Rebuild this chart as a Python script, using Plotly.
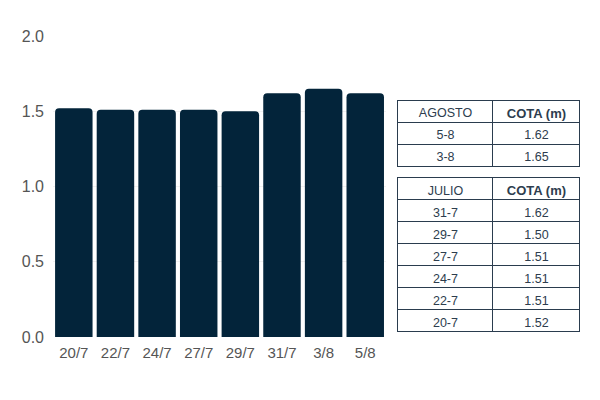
import plotly.graph_objects as go

# datos del grafico
fechas = ['20/7', '22/7', '24/7', '27/7', '29/7', '31/7', '3/8', '5/8']
cota = [1.52, 1.51, 1.51, 1.51, 1.50, 1.62, 1.65, 1.62]
y_ticks = [0.0, 0.5, 1.0, 1.5, 2.0]

# tablas
agosto_dias = ['5-8', '3-8']
agosto_cota = ['1.62', '1.65']
julio_dias = ['31-7', '29-7', '27-7', '24-7', '22-7', '20-7']
julio_cota = ['1.62', '1.50', '1.51', '1.51', '1.51', '1.52']

bar_color = '#03243a'
line_color = '#2a3c4e'
text_color = '#2d3d4e'

fig = go.Figure()

fig.add_trace(
    go.Bar(
        x=fechas,
        y=cota,
        marker=dict(color=bar_color, cornerradius=4, line=dict(width=0)),
        showlegend=False,
        hoverinfo='x+y',
    )
)


def tabla(titulo, dias, valores, ydom):
    return go.Table(
        domain=dict(x=[0.6546, 1.0], y=ydom),
        columnwidth=[95, 87],
        header=dict(
            values=[titulo, 'COTA (m)'],
            height=22,
            align='center',
            fill_color='white',
            line=dict(color=line_color, width=1),
            font=dict(size=[12.5, 13], color=text_color, family='Liberation Sans',
                      weight=['normal', 'bold']),
        ),
        cells=dict(
            values=[dias, valores],
            height=22,
            align='center',
            fill_color='white',
            line=dict(color=line_color, width=1),
            font=dict(size=12.5, color=text_color, family='Liberation Sans'),
        ),
    )


fig.add_trace(tabla('AGOSTO', agosto_dias, agosto_cota, [0.45, 0.787]))
fig.add_trace(tabla('JULIO', julio_dias, julio_cota, [0.0, 0.53]))

fig.update_layout(
    width=600,
    height=400,
    margin=dict(l=45, r=28, t=28, b=71),
    paper_bgcolor='white',
    plot_bgcolor='white',
    bargap=0.1,
    font=dict(family='Liberation Sans', color='#555555'),
    xaxis=dict(
        domain=[0, 0.632],
        showgrid=False,
        showline=False,
        ticks='',
        ticklabelstandoff=5,
        tickfont=dict(size=15, color='#555555'),
    ),
    yaxis=dict(
        range=[0, 2.0],
        tickvals=y_ticks,
        ticktext=[f'{v:.1f}' for v in y_ticks],
        showgrid=True,
        gridcolor='#f1f1f1',
        zeroline=False,
        showline=False,
        ticks='',
        ticklabelstandoff=8,
        tickfont=dict(size=16, color='#555555'),
    ),
)

fig.write_html("out.html")
